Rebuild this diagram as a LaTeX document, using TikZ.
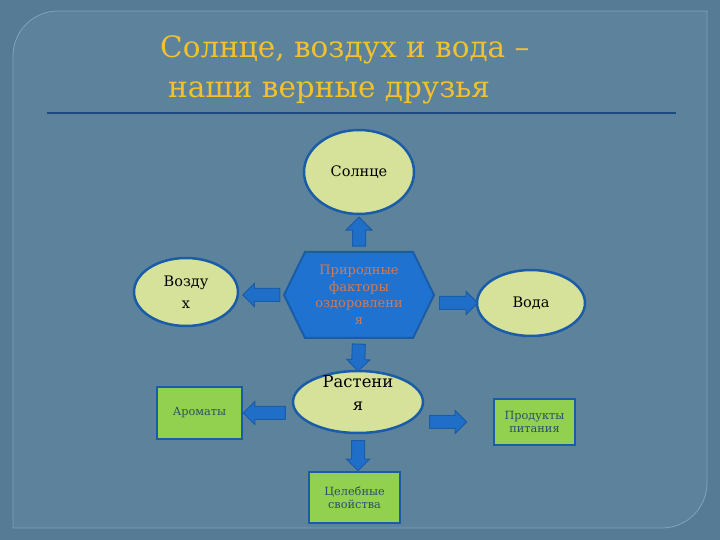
\documentclass[tikz,border=0pt]{standalone}
\usepackage{fontspec}
\setmainfont{DejaVu Serif}
\usetikzlibrary{positioning,shapes.geometric,shapes.symbols,shapes.arrows}
\definecolor{slatebg}{HTML}{557B95}
\definecolor{panelbg}{HTML}{5C839B}
\definecolor{panelrim}{HTML}{7FA4BC}
\definecolor{titlegold}{HTML}{F2C12E}
\definecolor{rulenavy}{HTML}{1E4A80}
\definecolor{sunfill}{HTML}{D6E29A}
\definecolor{rimblue}{HTML}{1A5CA8}
\definecolor{hubblue}{HTML}{1F72CF}
\definecolor{hubtext}{HTML}{D27A52}
\definecolor{leafgreen}{HTML}{92D050}
\definecolor{leafink}{HTML}{2A4F66}
\definecolor{arrowblue}{HTML}{1F6FC8}
\tikzset{
  factor/.style={ellipse, draw=rimblue, line width=2.5pt, fill=sunfill,
    inner sep=0pt, align=center, font=\fontsize{14.5}{22}\selectfont},
  hub/.style={signal, signal to=west and east, signal pointer angle=128,
    draw=rimblue, line width=2pt, fill=hubblue, text=hubtext, inner sep=0pt,
    minimum width=150pt, minimum height=86pt, align=center,
    font=\fontsize{13}{16.5}\selectfont},
  benefit/.style={rectangle, draw=rimblue, line width=2.5pt, fill=leafgreen,
    text=leafink, inner sep=0pt, align=center, font=\fontsize{11.3}{13.5}\selectfont},
  blockarrow/.style={single arrow, draw=rimblue, fill=arrowblue, line width=1pt,
    inner xsep=0pt, inner ysep=6pt, single arrow head extend=5pt,
    minimum height=#1, sloped, allow upside down},
  title/.style={text=titlegold, anchor=west, inner sep=0pt,
    font=\fontsize{29.5}{34}\selectfont},
}

\begin{document}
\begin{tikzpicture}[x=1pt, y=1pt]
  % Background
  \fill[slatebg] (0,0) rectangle (720,540);
  \draw[panelrim, fill=panelbg, line width=0.8pt]
    (13,12) -- (13,484) arc(180:90:45) -- (707,529) -- (707,57) arc(0:-90:45) -- cycle;
  \useasboundingbox (0,0) rectangle (720,540);

  % Title
  \node[title] (title1) at (160,490) {Солнце, воздух и вода –};
  \node[title] (title2) at (168,447) {наши верные друзья};
  \draw[rulenavy, line width=1.5pt] (47,427) -- (676,427);

  % Nodes
  \node[hub] (hub) at (359,245) {Природные\\факторы\\оздоровлени\\я};
  \node[factor, minimum width=110pt, minimum height=84pt] (sun) at (359,368) {Солнце};
  \node[factor, minimum width=104pt, minimum height=68pt] (air) at (186,248) {Возду\\х};
  \node[factor, minimum width=108pt, minimum height=66pt] (water) at (531,237) {Вода};
  \node[factor, minimum width=130pt, minimum height=62pt] (plants) at (358,138) {};
  \node[inner sep=0pt, align=center, font=\fontsize{16.4}{23}\selectfont]
    (plantstext) at ([yshift=8.5pt]plants.center) {Растени\\я};
  \node[benefit, minimum width=85pt, minimum height=52pt] (aroma) at (199.5,127) {Ароматы};
  \node[benefit, minimum width=81pt, minimum height=46pt] (food) at (534.5,118) {Продукты\\питания};
  \node[benefit, minimum width=91pt, minimum height=51pt] (heal) at (354.5,42.5) {Целебные\\свойства};

  % Arrows
  \path (hub.north) -- (sun.south) node[blockarrow=29pt, single arrow head extend=6.5pt, pos=0.45] {};
  \path (hub.west) -- (hub.west -| air.east) node[blockarrow=37pt, pos=0.42] {};
  \path (water.west -| hub.east) -- (water.west) node[blockarrow=38pt, midway] {};
  \path (hub.south) -- (plants.north) node[blockarrow=27pt, midway] {};
  \path (aroma.east -| plants.west) -- (aroma.east) node[blockarrow=42pt, midway] {};
  \path (food.west -| plants.east) -- (food.west) node[blockarrow=37pt, pos=0.3] {};
  \path (plants.south) -- (plants.south |- heal.north) node[blockarrow=30pt, midway] {};
\end{tikzpicture}
\end{document}
